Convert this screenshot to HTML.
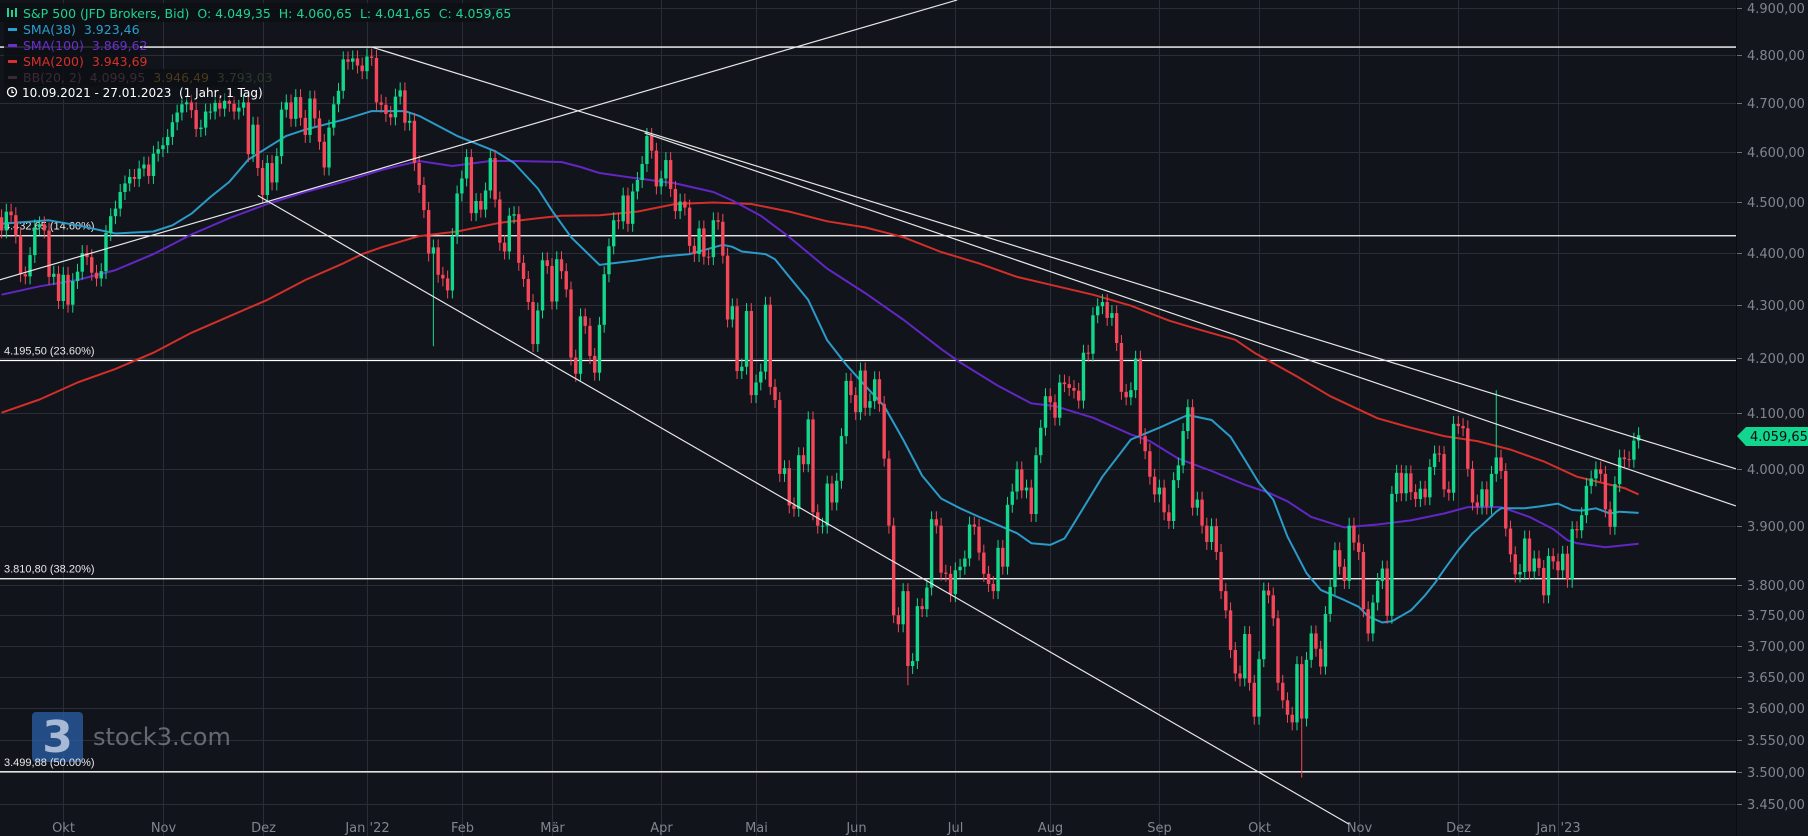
<!DOCTYPE html>
<html><head><meta charset="utf-8"><style>
html,body{margin:0;padding:0;background:#11141b;}
svg{display:block;font-family:"DejaVu Sans","Liberation Sans",sans-serif;}
#legend text{white-space:pre;}
</style></head><body>
<svg id="chart" width="1808" height="836" viewBox="0 0 1808 836" xmlns="http://www.w3.org/2000/svg">
<rect x="0" y="0" width="1808" height="836" fill="#11141b"/>
<rect x="1737" y="0" width="71" height="836" fill="#13161d"/>
<line x1="1736.5" y1="0" x2="1736.5" y2="836" stroke="#0a0c10" stroke-width="1"/>
<g id="grid"></g>
<g id="yaxis"></g>
<g id="xaxis"></g>
<g id="logo">
  <rect x="32" y="712" width="51" height="50" rx="4" fill="#2a5ea8" opacity="0.75"/>
  <text x="57.5" y="752" text-anchor="middle" font-size="44" font-weight="bold" fill="#c9d6ea" opacity="0.8">3</text>
  <text x="93" y="745" font-size="24" fill="#80858e" opacity="0.75">stock3.com</text>
</g>
<g id="hlines"></g>
<g id="mas"></g>
<g id="candles"></g>
<g id="tlines"></g>
<g id="legend">
  <rect x="0" y="3" width="482" height="19" fill="#0c0e13" opacity="0.85"/>
  <rect x="4" y="20" width="134" height="17" fill="#0c0e13" opacity="0.85"/>
  <rect x="4" y="37" width="136" height="16" fill="#0c0e13" opacity="0.85"/>
  <rect x="4" y="53" width="136" height="16" fill="#0c0e13" opacity="0.85"/>
  <rect x="4" y="69" width="238" height="17" fill="#0c0e13" opacity="0.85"/>
  <g fill="#1ed490" font-size="12.5">
    <rect x="7" y="8" width="2" height="9"/><rect x="11" y="10" width="2" height="7"/><rect x="15" y="8" width="2" height="9"/>
    <text x="23" y="18" xml:space="preserve">S&amp;P 500 (JFD Brokers, Bid)  O: 4.049,35  H: 4.060,65  L: 4.041,65  C: 4.059,65</text>
  </g>
  <g><rect x="8" y="28" width="9" height="3" fill="#2a9fd0"/><text x="23" y="34" font-size="12.5" fill="#2a9fd0" xml:space="preserve">SMA(38)  3.923,46</text></g>
  <g><rect x="8" y="44" width="9" height="3" fill="#6b2fd0"/><text x="23" y="50" font-size="12.5" fill="#6b2fd0" xml:space="preserve">SMA(100)  3.869,62</text></g>
  <g><rect x="8" y="60" width="9" height="3" fill="#d9302b"/><text x="23" y="66" font-size="12.5" fill="#d9302b" xml:space="preserve">SMA(200)  3.943,69</text></g>
  <g><rect x="8" y="76" width="9" height="3" fill="#3a2a36"/><text x="23" y="82" font-size="12.5" xml:space="preserve"><tspan fill="#3a2a36">BB(20, 2)  4.099,95  </tspan><tspan fill="#4a3a1e">3.946,49  </tspan><tspan fill="#2a3a2a">3.793,03</tspan></text></g>
  <g>
    <rect x="4" y="85" width="238" height="15" fill="#0c0e13" opacity="0.5"/>
    <circle cx="12" cy="92" r="4.5" fill="none" stroke="#fff" stroke-width="1.3"/><path d="M12 89.5V92.5H14" stroke="#fff" stroke-width="1.2" fill="none"/>
    <text x="22" y="97" font-size="12" fill="#ffffff" xml:space="preserve">10.09.2021 - 27.01.2023  (1 Jahr, 1 Tag)</text>
  </g>
</g>
<g id="pricetag">
  <path d="M1737 436 L1746 427 H1808 V446 H1746 Z" fill="#12d58e"/>
  <text x="1750" y="441" font-size="13" fill="#0b0d12">4.059,65</text>
</g>
</svg>
<script>
// ---- data ----
const closes = [
4458,4469,4443,4480,4473,4433,4358,4354,4395,4449,4455,4443,4353,4359,4307,
4357,4300,4345,4363,4399,4391,4361,4350,4364,4438,4471,4486,4519,4536,4549,4545,4566,4574,4551,4596,4605,
4613,4630,4660,4680,4697,4701,4685,4646,4649,4682,4682,4700,4688,4704,4698,4682,4690,4701,4595,4655,4567,
4513,4577,4538,4591,4686,4701,4667,4712,4669,4634,4709,4668,4620,4568,4649,4697,4725,4791,4786,4793,4778,4766,
4797,4794,4701,4696,4677,4670,4713,4726,4659,4663,4577,4533,4483,4398,4410,4357,4350,4327,4432,4516,
4546,4589,4477,4501,4484,4522,4587,4504,4419,4402,4472,4475,4380,4349,4305,4226,4289,4385,4374,
4306,4387,4364,4329,4201,4171,4278,4260,4204,4173,4262,4358,4412,4463,4461,4512,4456,4520,4543,4575,4632,4602,4530,
4546,4583,4525,4481,4500,4488,4413,4397,4447,4392,4391,4463,4460,4394,4272,4297,4176,4184,4288,4132,
4155,4175,4300,4147,4123,3991,4001,3936,3930,4024,4008,4088,3924,3901,3901,3974,3941,3979,4058,4158,4132,
4101,4177,4109,4121,4161,4116,4018,3901,3750,3735,3790,3667,3675,3765,3760,3796,3912,3901,3821,3819,3785,
3825,3831,3845,3903,3899,3855,3819,3802,3790,3863,3831,3937,3960,3999,3962,3967,3921,4024,4073,4130,
4119,4091,4155,4152,4145,4140,4122,4210,4208,4280,4297,4305,4275,4284,4228,4138,4128,4141,4199,4058,4031,3986,3955,
3967,3924,3909,3980,4006,4067,4110,3932,3946,3901,3873,3900,3856,3790,3758,3693,3655,3647,3719,3640,3586,
3678,3791,3783,3745,3640,3612,3589,3577,3670,3583,3677,3720,3695,3666,3752,3797,3859,3831,3807,3901,3872,
3856,3760,3720,3771,3807,3828,3749,3956,3993,3957,3992,3959,3947,3965,3950,4003,4027,4026,3964,3958,4080,
4076,4072,4000,3941,3934,3964,3934,3991,4020,3996,3896,3852,3818,3822,3879,3823,3845,3829,3783,3849,3840,
3825,3853,3809,3895,3893,3919,3970,3983,3999,3991,3929,3899,3973,4020,4017,4016,4050,4059.65
];
const firstOpen = 4449;
const wickExtremeDays = [276, 317, 93, 193];
const wickExtremeLows = [3491, null, 4222, 3636];
const wickExtremeHighs = [null, 4141, null, null];

const sma38Days = [2,12,18,26,34,38,42,46,50,54,58,62,66,70,74,80,87,90,98,106,110,115,118,122,128,136,141,147,154,156,158,163,165,168,172,176,180,184,188,192,196,200,204,208,212,216,219,223,226,228,234,240,246,252,257,261,264,267,270,273,277,280,285,288,290,293,295,299,302,304,306,309,312,314,317,318,323,326,330,333,335,338,341,343,347];
const sma38Vals = [4456,4463,4453,4437,4441,4453,4476,4509,4539,4584,4608,4632,4645,4655,4665,4683,4683,4673,4632,4601,4577,4526,4482,4430,4376,4385,4392,4397,4415,4411,4402,4397,4387,4353,4309,4233,4188,4149,4112,4052,3988,3948,3931,3916,3902,3888,3871,3868,3879,3905,3986,4052,4073,4096,4087,4057,4016,3975,3946,3882,3820,3792,3775,3764,3748,3738,3740,3758,3783,3803,3826,3859,3888,3902,3925,3931,3931,3934,3939,3928,3927,3931,3922,3925,3923];
const sma100Days = [2,10,18,26,34,42,50,58,66,74,82,90,97,105,110,120,124,128,136,144,152,156,162,168,176,184,192,200,204,212,219,224,232,240,244,250,257,264,269,273,278,285,292,299,306,311,318,324,329,332,334,340,347];
const sma100Vals = [4319,4335,4347,4366,4397,4435,4467,4495,4519,4539,4563,4581,4571,4581,4581,4579,4569,4557,4546,4536,4519,4502,4472,4430,4369,4322,4272,4217,4192,4149,4117,4112,4091,4061,4049,4018,3996,3972,3958,3943,3916,3898,3903,3910,3922,3933,3933,3916,3895,3876,3871,3864,3870];
const sma200Days = [2,10,18,26,34,42,50,58,66,74,78,82,90,98,107,115,120,128,136,144,152,160,168,176,184,192,200,208,216,224,232,240,248,254,262,266,275,282,292,299,306,313,320,327,334,340,344,347];
const sma200Vals = [4100,4124,4155,4180,4210,4247,4278,4309,4347,4379,4397,4410,4432,4441,4458,4467,4472,4473,4480,4495,4498,4495,4480,4461,4449,4430,4401,4379,4353,4336,4319,4298,4270,4254,4234,4210,4166,4130,4090,4073,4058,4049,4034,4013,3986,3974,3966,3955];

const yTicks = [4900,4800,4700,4600,4500,4400,4300,4200,4100,4000,3900,3800,3750,3700,3650,3600,3550,3500,3450];
const monthLabels = ["Okt","Nov","Dez","Jan '22","Feb","Mär","Apr","Mai","Jun","Jul","Aug","Sep","Okt","Nov","Dez","Jan '23"];
const monthDays = [15,36,57,79,99,118,141,161,182,203,223,246,267,288,309,330];
const fibLevels = [4817, 4432.65, 4195.50, 3810.80, 3499.88];
const fibLabels = [null, "4.432,65 (14.60%)", "4.195,50 (23.60%)", "3.810,80 (38.20%)", "3.499,88 (50.00%)"];
// trend lines: [startDay, startPrice, endDay, endPrice]
const trendStartDays = [0, 56, 80, 137.5];
const trendStartPrices = [4343, 4512, 4817, 4638];
const trendEndDays = [203.4, 286, 367.5, 367.5];
const trendEndPrices = [4918, 3420, 4000, 3935];

// ---- scales ----
const NS = "http://www.w3.org/2000/svg";
const PLOT_R = 1736;
function xOf(i){ return -7.9 + i*4.745; }
function yOf(p){ return 8.3 + 2269*Math.log(4900/p); }
function fmt(v){ const s=v.toFixed(2).split('.'); return s[0].replace(/\B(?=(\d{3})+(?!\d))/g,'.')+','+s[1]; }
function mk(tag, attrs, parent){ const e=document.createElementNS(NS,tag); for(const k in attrs) e.setAttribute(k,attrs[k]); parent.appendChild(e); return e; }

const grid=document.getElementById('grid'), yaxis=document.getElementById('yaxis'), xaxis=document.getElementById('xaxis');
yTicks.forEach(p=>{
  const y=Math.round(yOf(p))+0.5;
  const gl=mk('line',{x1:0,y1:y,x2:PLOT_R,y2:y,stroke:'#2a2d35','stroke-width':1},grid);
  
  
  const tk=mk('line',{x1:1737,y1:y,x2:1742,y2:y,stroke:'#6a6f78','stroke-width':1},yaxis);
  
  
  const t=mk('text',{x:1747,y:y+4.5,'font-size':13,fill:'#80858e'},yaxis);
  
  
  t.textContent=fmt(p);
});
monthDays.forEach((d,k)=>{
  const x=Math.round(xOf(d))+0.5;
  const gl=mk('line',{x1:x,y1:0,x2:x,y2:836,stroke:'#2a2d35','stroke-width':1},grid);
  
  
  const t=mk('text',{x:x,y:832,'font-size':13,fill:'#80858e','text-anchor':'middle'},xaxis);
  
  
  t.textContent=monthLabels[k];
});

const hl=document.getElementById('hlines');
fibLevels.forEach((p,k)=>{
  const y=yOf(p);
  const l=mk('line',{x1:0,y1:y,x2:PLOT_R,y2:y,stroke:'#ffffff','stroke-width':1.3},hl);
  
  
  if(fibLabels[k]){
    const t=mk('text',{x:4,y:y-6,'font-size':11,fill:'#e8e8e8','font-family':'"Liberation Sans Narrow","Liberation Sans",sans-serif'},hl);
    
    
    t.textContent=fibLabels[k];
  }
});

const mas=document.getElementById('mas');
function drawMA(days, vals, color, name){
  const pts=days.map((d,i)=>xOf(d).toFixed(1)+','+yOf(vals[i]).toFixed(1)).join(' ');
  const pl=mk('polyline',{points:pts,fill:'none',stroke:color,'stroke-width':2,'stroke-linejoin':'round'},mas);
  
  
}
drawMA(sma200Days,sma200Vals,'#d32f2a','sma200-line');
drawMA(sma100Days,sma100Vals,'#6326c4','sma100-line');
drawMA(sma38Days,sma38Vals,'#2a9bc8','sma38-line');

const cg=document.getElementById('candles');
closes.forEach((c,i)=>{
  const o = i===0 ? firstOpen : closes[i-1];
  const up = c>=o;
  const col = up ? '#13d88c' : '#f5475a';
  let hi = Math.max(o,c)*1.0035, lo = Math.min(o,c)*0.9965;
  const w = wickExtremeDays.indexOf(i);
  if(w>=0){ if(wickExtremeLows[w]!==null) lo=wickExtremeLows[w]; if(wickExtremeHighs[w]!==null) hi=wickExtremeHighs[w]; }
  const x=xOf(i);
  const wick=mk('line',{x1:x,y1:yOf(hi),x2:x,y2:yOf(lo),stroke:col,'stroke-width':1},cg);
  
  
  const yt=yOf(Math.max(o,c)), yb=yOf(Math.min(o,c));
  const body=mk('rect',{x:x-1.7,y:yt,width:3.4,height:Math.max(1,yb-yt),fill:col},cg);
  
  
});

const tl=document.getElementById('tlines');
trendStartDays.forEach((d,k)=>{
  const l=mk('line',{x1:xOf(d),y1:yOf(trendStartPrices[k]),x2:xOf(trendEndDays[k]),y2:yOf(trendEndPrices[k]),stroke:'#e6e6e6','stroke-width':1.2},tl);
  
  
});
</script>
</body></html>
